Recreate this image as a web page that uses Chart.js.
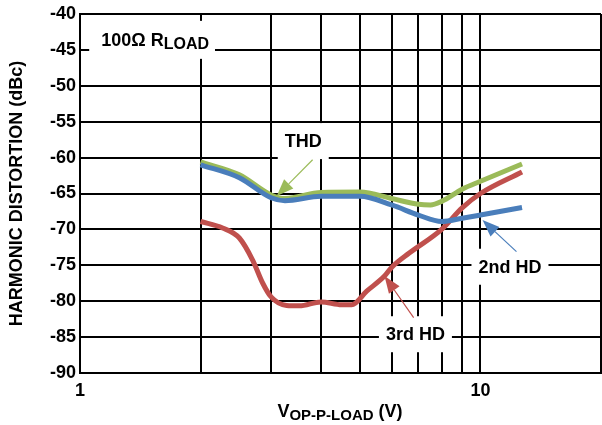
<!DOCTYPE html>
<html>
<head>
<meta charset="utf-8">
<script src="https://cdn.jsdelivr.net/npm/chart.js@4.4.1/dist/chart.umd.min.js"></script>
<style>
  body { margin: 0; background: #fff; }
  #wrap { width: 602px; height: 425px; }
</style>
</head>
<body>
<div id="wrap"><canvas id="hd-chart" width="602" height="425"></canvas></div>
<script>
// values (x in V p-p, y in dBc)
var hd2X = [2, 2.5, 3, 3.25, 4, 5, 6, 7, 8, 9, 10, 12.7];
var hd2Y = [-61.0, -62.8, -65.6, -66.0, -65.4, -65.4, -66.6, -68.0, -68.9, -68.45, -68.0, -66.95];

var thdX = [2, 2.5, 3, 3.25, 4, 5, 6, 7, 7.5, 8, 9, 10, 12.7];
var thdY = [-60.6, -62.4, -65.2, -65.7, -64.85, -64.8, -65.7, -66.5, -66.6, -66.1, -64.4, -63.3, -60.9];

var hd3X = [2, 2.27, 2.5, 2.7, 2.86, 3, 3.28, 3.53, 4, 4.5, 4.77, 5.2, 5.76, 6, 6.64, 8, 9, 10, 12.7];
var hd3Y = [-68.9, -69.8, -71.2, -74.3, -77.5, -79.4, -80.6, -80.65, -80.1, -80.5, -80.5, -78.6, -76.5, -75.3, -73.3, -70.0, -67.0, -65.0, -62.0];

var xGrid = [1, 2, 3, 4, 5, 6, 7, 8, 9, 10, 20];
var xTickLabels = [1, 10];
var yTicks = [-90, -85, -80, -75, -70, -65, -60, -55, -50, -45, -40];

var FONT = '"Liberation Sans", Arial, sans-serif';

function pts(xs, ys) {
  return xs.map(function(x, i) { return {x: x, y: ys[i]}; });
}

// labels and arrows, positioned in data units
var labels = [
  {text: 'THD', x: 3.61, y: -57.7},
  {text: '2nd HD', x: 11.85, y: -75.2},
  {text: '3rd HD', x: 6.88, y: -84.6}
];
var arrows = [
  {from: [3.81, -60.3], to: [3.10, -65.35], color: '#9BBB59'},
  {from: [12.3, -73.1], to: [10.12, -68.7], color: '#4A7EBB'},
  {from: [6.81, -82.3], to: [5.76, -76.5], color: '#C0504D'}
];

function drawArrow(ctx, x1, y1, x2, y2, color) {
  var ang = Math.atan2(y2 - y1, x2 - x1);
  var len = 17, half = 6.5;
  var bx = x2 - len * Math.cos(ang), by = y2 - len * Math.sin(ang);
  ctx.strokeStyle = color;
  ctx.fillStyle = color;
  ctx.lineWidth = 1.2;
  ctx.beginPath();
  ctx.moveTo(x1, y1);
  ctx.lineTo(bx, by);
  ctx.stroke();
  ctx.beginPath();
  ctx.moveTo(x2, y2);
  ctx.lineTo(bx + half * Math.sin(ang), by - half * Math.cos(ang));
  ctx.lineTo(bx - half * Math.sin(ang), by + half * Math.cos(ang));
  ctx.closePath();
  ctx.fill();
}

var extras = {
  id: 'extras',
  afterDatasetsDraw: function(chart) {
    var ctx = chart.ctx;
    var xs = chart.scales.x, ys = chart.scales.y;
    ctx.save();

    // plain labels with white boxes over the grid
    ctx.font = 'bold 18px ' + FONT;
    ctx.textBaseline = 'middle';
    ctx.textAlign = 'center';
    labels.forEach(function(l) {
      var px = xs.getPixelForValue(l.x), py = ys.getPixelForValue(l.y);
      var w = ctx.measureText(l.text).width;
      ctx.fillStyle = '#fff';
      ctx.fillRect(px - w / 2 - 7, py - 18, w + 14, 36);
      ctx.fillStyle = '#000';
      ctx.fillText(l.text, px, py + 1);
    });

    // 100Ω R_LOAD
    var rx = xs.getPixelForValue(1.54), ry = ys.getPixelForValue(-43.6);
    ctx.font = 'bold 18px ' + FONT;
    var w1 = ctx.measureText('100\u03A9 R').width;
    ctx.font = 'bold 16px ' + FONT;
    var w2 = ctx.measureText('LOAD').width;
    var left = rx - (w1 + w2) / 2;
    ctx.fillStyle = '#fff';
    ctx.fillRect(left - 12, ry - 19, w1 + w2 + 18, 38);
    ctx.fillStyle = '#000';
    ctx.textAlign = 'left';
    ctx.textBaseline = 'alphabetic';
    ctx.font = 'bold 18px ' + FONT;
    ctx.fillText('100\u03A9 R', left, ry + 6);
    ctx.font = 'bold 16px ' + FONT;
    ctx.fillText('LOAD', left + w1, ry + 9);

    arrows.forEach(function(a) {
      drawArrow(ctx, xs.getPixelForValue(a.from[0]), ys.getPixelForValue(a.from[1]),
        xs.getPixelForValue(a.to[0]), ys.getPixelForValue(a.to[1]), a.color);
    });

    // axis titles
    var area = chart.chartArea;
    ctx.fillStyle = '#000';
    ctx.save();
    ctx.translate(17, (area.top + area.bottom) / 2);
    ctx.rotate(-Math.PI / 2);
    ctx.textAlign = 'center';
    ctx.textBaseline = 'middle';
    ctx.font = 'bold 18px ' + FONT;
    ctx.fillText('HARMONIC DISTORTION (dBc)', 0, 0);
    ctx.restore();

    ctx.textAlign = 'left';
    ctx.textBaseline = 'alphabetic';
    ctx.font = 'bold 18px ' + FONT;
    var a1 = ctx.measureText('V').width;
    var a3 = ctx.measureText(' (V)').width;
    ctx.font = 'bold 15px ' + FONT;
    var a2 = ctx.measureText('OP-P-LOAD').width;
    var tx = 340 - (a1 + a2 + a3) / 2;
    ctx.font = 'bold 18px ' + FONT;
    ctx.fillText('V', tx, 417);
    ctx.font = 'bold 15px ' + FONT;
    ctx.fillText('OP-P-LOAD', tx + a1, 420);
    ctx.font = 'bold 18px ' + FONT;
    ctx.fillText(' (V)', tx + a1 + a2, 417);

    ctx.restore();
  }
};

var ctx = document.getElementById('hd-chart');

var myChart = new Chart(ctx, {
  type: 'line',
  data: {
    datasets: [
      {label: '2nd HD', data: pts(hd2X, hd2Y), borderColor: '#4A7EBB'},
      {label: 'THD', data: pts(thdX, thdY), borderColor: '#9BBB59'},
      {label: '3rd HD', data: pts(hd3X, hd3Y), borderColor: '#C0504D'}
    ]
  },
  options: {
    responsive: false,
    animation: false,
    devicePixelRatio: 1,
    layout: { padding: { top: 14, right: 1, left: 0, bottom: 0 } },
    elements: {
      line: { borderWidth: 5, cubicInterpolationMode: 'monotone', fill: false },
      point: { radius: 0 }
    },
    plugins: {
      legend: { display: false },
      tooltip: { enabled: false }
    },
    scales: {
      x: {
        type: 'logarithmic',
        min: 1,
        max: 20,
        afterBuildTicks: function(scale) {
          scale.ticks = xGrid.map(function(v) { return {value: v}; });
        },
        afterFit: function(scale) {
          scale.height = 52;
          scale.paddingLeft = 0;
          scale.paddingRight = 0;
        },
        grid: { color: '#000', lineWidth: 2, drawTicks: false },
        border: { color: '#000', width: 2 },
        ticks: {
          autoSkip: false,
          maxRotation: 0,
          padding: 7,
          color: '#000',
          font: { family: FONT, size: 18, weight: 'bold' },
          callback: function(v) {
            return xTickLabels.indexOf(v) >= 0 ? String(v) : '';
          }
        }
      },
      y: {
        min: -90,
        max: -40,
        afterBuildTicks: function(scale) {
          scale.ticks = yTicks.map(function(v) { return {value: v}; });
        },
        afterFit: function(scale) {
          scale.width = 80;
          scale.paddingTop = 0;
          scale.paddingBottom = 0;
        },
        grid: { color: '#000', lineWidth: 2, drawTicks: false },
        border: { color: '#000', width: 2 },
        ticks: {
          padding: 4,
          color: '#000',
          font: { family: FONT, size: 18, weight: 'bold' }
        }
      }
    }
  },
  plugins: [extras]
});
</script>
</body>
</html>
